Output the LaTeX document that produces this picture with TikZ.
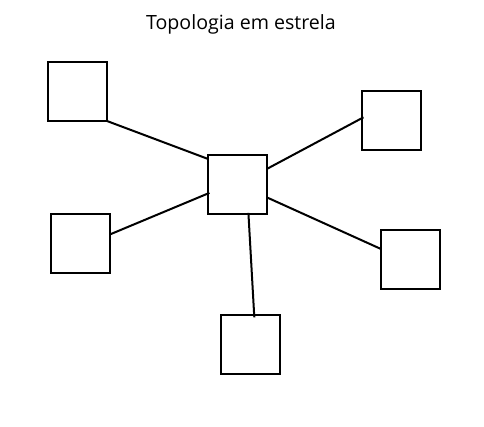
\documentclass[tikz,border=0pt]{standalone}
\usepackage{fontspec}
\setmainfont{Open Sans}
\begin{document}
\begin{tikzpicture}[x=1pt,y=-1pt,
  box/.style={draw=black,line width=2pt,minimum width=59pt,minimum height=59pt,inner sep=0pt,outer sep=0pt,fill=white},
  link/.style={draw=black,line width=2pt}]
\useasboundingbox[fill=white] (0,0) rectangle (484,426);
\node[anchor=base,font=\fontsize{19.6}{22}\selectfont] (title) at (241,29) {Topologia em estrela};
\node[box] (c)  at (237.4,184.4) {};
\node[box] (tl) at (77.5,91.5) {};
\node[box] (tr) at (391.5,120.3) {};
\node[box] (l)  at (80.5,243.4) {};
\node[box] (r)  at (410.5,259.5) {};
\node[box] (b)  at (250.3,344.3) {};
\draw[link] (tl.south east) -- ([yshift=-4pt]c.north west);
\draw[link] ([yshift=-14pt]c.north east) -- ([xshift=1.5pt,yshift=3pt]tr.west);
\draw[link] ([yshift=9pt]l.east) -- ([xshift=1.5pt,yshift=-8.5pt]c.west);
\draw[link] ([yshift=-13pt]c.east) -- ([yshift=10.5pt]r.west);
\draw[link] ([xshift=11pt,yshift=1pt]c.south) -- ([xshift=4pt,yshift=-2.5pt]b.north);
\end{tikzpicture}
\end{document}
